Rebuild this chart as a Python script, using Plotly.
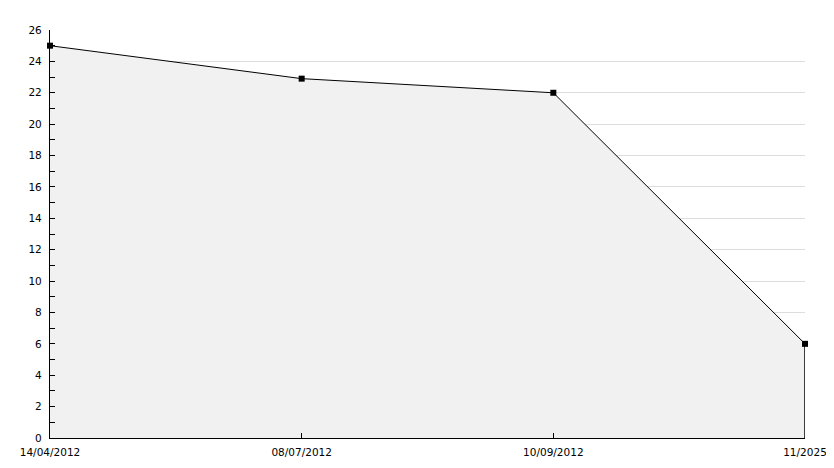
import plotly.graph_objects as go

categories = ["14/04/2012", "08/07/2012", "10/09/2012", "11/2025"]
values = [25, 22.9, 22, 6]
y_ticks = [0, 2, 4, 6, 8, 10, 12, 14, 16, 18, 20, 22, 24, 26]

xs = list(range(len(categories)))

fig = go.Figure()
fig.add_trace(go.Scatter(
    x=xs, y=values, mode="lines+markers", fill="tozeroy",
    fillcolor="#f1f1f1",
    line=dict(color="black", width=1),
    marker=dict(symbol="square", size=6, color="black"),
    showlegend=False, hoverinfo="skip", cliponaxis=False,
))
fig.add_trace(go.Scatter(
    x=[xs[-1], xs[-1]], y=[0, values[-1]], mode="lines",
    line=dict(color="black", width=1.5),
    showlegend=False, hoverinfo="skip", cliponaxis=False,
))

# page body has an 8px margin, so the figure is offset by (8, 8)
fig.update_layout(
    width=826, height=460,
    margin=dict(l=42, r=29, t=22, b=30, autoexpand=False),
    paper_bgcolor="white", plot_bgcolor="white",
    font=dict(family="DejaVu Sans", size=10.5, color="black"),
)
fig.update_xaxes(
    range=[0, len(categories) - 1],
    tickmode="array", tickvals=xs, ticktext=categories,
    showgrid=False, zeroline=False,
    showline=True, linecolor="black", linewidth=1.3,
    ticks="inside", ticklen=5, tickcolor="black", tickwidth=1,
    ticklabelstandoff=4,
)
fig.update_yaxes(
    range=[0, 26],
    tickmode="array", tickvals=y_ticks,
    showgrid=True, gridcolor="#dddddd", gridwidth=1,
    zeroline=False,
    showline=True, linecolor="black", linewidth=1.3,
    ticks="inside", ticklen=5, tickcolor="black", tickwidth=1,
    ticklabelstandoff=5,
    minor=dict(dtick=1, ticks="inside", ticklen=5, tickcolor="black", showgrid=False),
)

fig.write_html("out.html")
